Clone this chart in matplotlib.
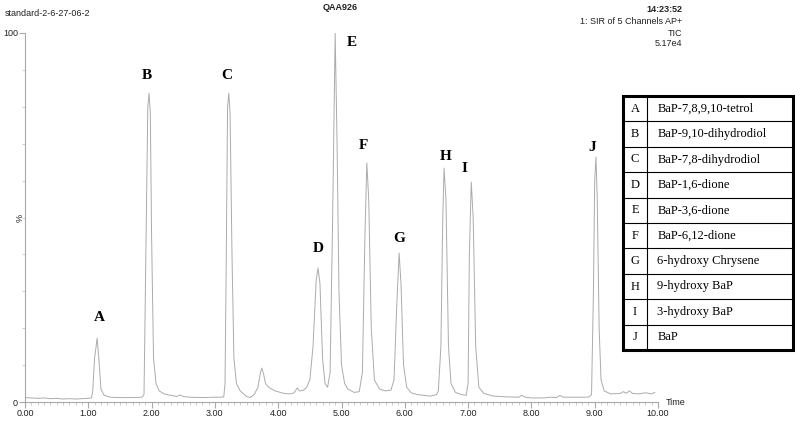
import matplotlib
matplotlib.use("Agg")
import matplotlib.pyplot as plt
from matplotlib.ticker import MultipleLocator

# chromatogram trace (time in min, % of max)
time = [0.00, 0.10, 0.20, 0.30, 0.40, 0.50, 0.60, 0.70, 0.80, 0.90, 1.00, 1.05,
        1.07, 1.10, 1.14, 1.17, 1.20, 1.25, 1.35, 1.50, 1.70, 1.85,
        1.88, 1.91, 1.94, 1.96, 1.98, 2.00, 2.03, 2.07, 2.12, 2.20, 2.30, 2.40,
        2.45, 2.50, 2.60, 2.80, 3.00, 3.10, 3.14,
        3.16, 3.18, 3.20, 3.22, 3.24, 3.27, 3.30, 3.34, 3.40, 3.50, 3.56, 3.62,
        3.68, 3.72, 3.74, 3.77, 3.80, 3.85, 3.95, 4.10, 4.20, 4.25, 4.30, 4.34,
        4.40, 4.45, 4.50, 4.55, 4.60, 4.63, 4.66, 4.70, 4.74, 4.78, 4.82, 4.86,
        4.90, 4.93, 4.96, 5.00, 5.05, 5.10, 5.20, 5.28, 5.33, 5.37, 5.40, 5.43,
        5.47, 5.52, 5.60, 5.70, 5.78, 5.83, 5.87, 5.91, 5.94, 5.98, 6.03, 6.10,
        6.20, 6.30, 6.40, 6.50, 6.53, 6.57, 6.60, 6.62, 6.65, 6.69, 6.73, 6.80,
        6.90, 6.97, 7.00, 7.02, 7.05, 7.08, 7.12, 7.17, 7.25, 7.40, 7.60, 7.80,
        7.85, 7.90, 8.00, 8.20, 8.30, 8.40, 8.45, 8.50, 8.70, 8.90, 8.95, 8.98,
        9.00, 9.02, 9.04, 9.07, 9.10, 9.15, 9.25, 9.40, 9.45, 9.50, 9.55, 9.60,
        9.70, 9.80, 9.90, 9.95]
intensity = [1.2, 1.1, 1.0, 1.1, 0.9, 1.0, 0.8, 0.9, 0.8, 0.9, 1.0, 1.1,
             3.0, 12.0, 17.3, 11.0, 3.5, 1.8, 1.3, 1.2, 1.2, 1.3,
             2.0, 40.0, 80.0, 83.7, 78.0, 45.0, 12.0, 5.0, 3.0, 2.2, 1.8, 1.5,
             1.9, 1.5, 1.3, 1.2, 1.3, 1.3, 1.4,
             5.0, 40.0, 80.0, 83.7, 78.0, 40.0, 12.0, 5.0, 3.0, 1.5, 1.2, 2.0,
             4.0, 8.0, 9.2, 7.5, 5.0, 4.0, 3.0, 2.3, 2.2, 2.5, 3.8, 3.0,
             3.2, 4.0, 6.0, 15.0, 33.0, 36.3, 32.0, 12.0, 5.0, 4.0, 8.0, 50.0,
             100.0, 70.0, 30.0, 10.0, 5.0, 3.5, 2.6, 2.8, 8.0, 45.0, 64.8, 55.0,
             20.0, 6.0, 3.5, 3.0, 3.2, 6.0, 25.0, 40.4, 32.0, 10.0, 4.0, 2.5,
             2.0, 1.8, 1.6, 2.0, 3.0, 15.0, 50.0, 63.4, 55.0, 15.0, 5.0, 2.6,
             2.0, 1.8, 5.0, 40.0, 59.6, 50.0, 15.0, 4.0, 2.3, 1.6, 1.4, 1.3,
             1.8, 1.3, 1.1, 1.1, 1.3, 1.2, 1.8, 1.3, 1.3, 1.3, 2.0, 30.0,
             60.0, 66.4, 55.0, 20.0, 6.0, 3.0, 2.2, 2.3, 2.8, 2.4, 3.0, 2.3,
             2.2, 2.5, 2.2, 2.6]

peak_letters = ["A", "B", "C", "D", "E", "F", "G", "H", "I", "J"]
peak_label_x = [1.18, 1.93, 3.19, 4.63, 5.17, 5.34, 5.91, 6.64, 6.95, 8.96]
peak_label_y = [22.8, 88.6, 88.6, 41.7, 97.3, 69.4, 44.4, 66.4, 63.4, 69.1]
compounds = ["BaP-7,8,9,10-tetrol", "BaP-9,10-dihydrodiol", "BaP-7,8-dihydrodiol",
             "BaP-1,6-dione", "BaP-3,6-dione", "BaP-6,12-dione",
             "6-hydroxy Chrysene", "9-hydroxy BaP", "3-hydroxy BaP", "BaP"]

W, H = 800, 422
fig = plt.figure(figsize=(W / 100, H / 100), dpi=100)
ax = fig.add_axes([25 / W, 1 - 402 / H, 633 / W, 369 / H])

ax.plot(time, intensity, color="#ababab", lw=0.7)
ax.set_xlim(0, 10)
ax.set_ylim(0, 100)
for s in ["top", "right"]:
    ax.spines[s].set_visible(False)
for s in ["left", "bottom"]:
    ax.spines[s].set_color("#a8a8a8")
    ax.spines[s].set_linewidth(0.8)
ax.set_xticks([i for i in range(11)])
ax.set_xticklabels(["%.2f" % i for i in range(11)])
ax.xaxis.set_minor_locator(MultipleLocator(0.1))
ax.set_yticks([0, 100])
ax.yaxis.set_minor_locator(MultipleLocator(10))
ax.tick_params(which="major", length=4, color="#a8a8a8", labelsize=6.5, pad=1,
               labelcolor="#222222")
ax.tick_params(which="minor", length=2, color="#c8c8c8")
for lab in ax.get_xticklabels() + ax.get_yticklabels():
    lab.set_fontfamily("Liberation Sans")

ax.text(1.012, -0.002, "Time", transform=ax.transAxes, fontsize=6.5,
        family="Liberation Sans", color="#222222", va="center", ha="left")
ax.text(0.0, 0.5, "%", transform=ax.transAxes, fontsize=6.5, rotation=90,
        family="Liberation Sans", color="#222222", va="center", ha="right")

for letter, lx, ly in zip(peak_letters, peak_label_x, peak_label_y):
    ax.text(lx, ly, letter, family="Liberation Serif", fontweight="bold",
            fontsize=11, ha="center", va="center")

# header texts
hdr = dict(family="Liberation Sans", fontsize=6.5, color="#222222")
fig.text(5 / W, 1 - 13 / H, "standard-2-6-27-06-2", va="center", ha="left", **hdr)
fig.text(340 / W, 1 - 8 / H, "QAA926", va="center", ha="center",
         fontweight="bold", **hdr)
fig.text(682 / W, 1 - 10 / H, "14:23:52", va="center", ha="right",
         fontweight="bold", **hdr)
fig.text(682 / W, 1 - 22 / H, "1: SIR of 5 Channels AP+", va="center", ha="right", **hdr)
fig.text(682 / W, 1 - 33 / H, "TIC", va="center", ha="right", **hdr)
fig.text(682 / W, 1 - 44 / H, "5.17e4", va="center", ha="right", **hdr)

# compound table
tx = fig.add_axes([623 / W, 1 - 350 / H, 170 / W, 254 / H])
tx.set_xlim(0, 1)
tx.set_ylim(len(compounds), 0)
tx.axis("off")
div = (647 - 623) / 170
for i, (letter, name) in enumerate(zip(peak_letters, compounds)):
    tx.text(div / 2, i + 0.5, letter, family="Liberation Serif", fontsize=9,
            ha="center", va="center")
    tx.text(div + 0.06, i + 0.5, name, family="Liberation Serif", fontsize=9,
            ha="left", va="center")
    if i > 0:
        tx.plot([0, 1], [i, i], color="black", lw=0.8)
tx.plot([div, div], [0, len(compounds)], color="black", lw=0.8)
tx.add_patch(plt.Rectangle((0, 0), 1, len(compounds), fill=False,
                           edgecolor="black", lw=2.2, clip_on=False))

fig.savefig("out.png", dpi=100)
